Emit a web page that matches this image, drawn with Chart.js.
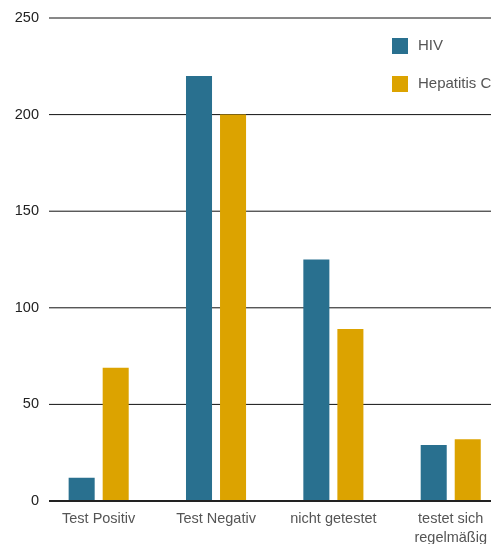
<!DOCTYPE html>
<html>
<head>
<meta charset="utf-8">
<script src="https://cdn.jsdelivr.net/npm/chart.js@4"></script>
<style>
  html, body { margin: 0; padding: 0; background: #fff; overflow: hidden; }
  #wrap { width: 491px; height: 544px; overflow: hidden; position: relative; }
  canvas { display: block; }
</style>
</head>
<body>
<div id="wrap"><canvas id="c" width="520" height="560"></canvas></div>
<script>
// Kategorien und Werte
const categories = ['Test Positiv', 'Test Negativ', 'nicht getestet', ['testet sich', 'regelmäßig']];
const seriesNames = ['HIV', 'Hepatitis C'];
const hivValues = [12, 220, 125, 29];
const hepCValues = [69, 200, 89, 32];
const yTicks = [0, 50, 100, 150, 200, 250];

const colors = ['#29708f', '#dca300'];
const FONT = '"Liberation Sans", Arial, Helvetica, sans-serif';

// Horizontal grid lines, drawn slightly inset from the plot's left edge
const gridPlugin = {
  id: 'insetGrid',
  beforeDatasetsDraw(chart) {
    const { ctx, chartArea, scales } = chart;
    const y = scales.y;
    const x0 = chartArea.left + 9;
    const x1 = chart.width;
    ctx.save();
    yTicks.forEach(v => {
      const py = y.getPixelForValue(v);
      ctx.beginPath();
      if (v === 0) {
        ctx.lineWidth = 2;
        ctx.strokeStyle = '#222';
      } else {
        ctx.lineWidth = 1;
        ctx.strokeStyle = '#111';
      }
      ctx.moveTo(x0, py);
      ctx.lineTo(x1, py);
      ctx.stroke();
    });
    ctx.restore();
  },
  afterDatasetsDraw(chart) {
    // redraw the baseline over the bar feet
    const { ctx, chartArea, scales } = chart;
    const py = scales.y.getPixelForValue(0);
    ctx.save();
    ctx.lineWidth = 2;
    ctx.strokeStyle = '#222';
    ctx.beginPath();
    ctx.moveTo(chartArea.left + 9, py);
    ctx.lineTo(chart.width, py);
    ctx.stroke();
    ctx.restore();
  }
};

// Legend placed inside the plot, upper right
const legendPlugin = {
  id: 'innerLegend',
  afterDraw(chart) {
    const { ctx, chartArea } = chart;
    const bx = chartArea.left + 352;
    let by = chartArea.top + 20;
    ctx.save();
    ctx.font = '15px ' + FONT;
    ctx.textBaseline = 'middle';
    ctx.textAlign = 'left';
    chart.data.datasets.forEach(ds => {
      ctx.fillStyle = ds.backgroundColor;
      ctx.fillRect(bx, by, 16, 16);
      ctx.fillStyle = '#555';
      ctx.fillText(ds.label, bx + 26, by + 8);
      by += 38;
    });
    ctx.restore();
  }
};

new Chart(document.getElementById('c'), {
  type: 'bar',
  data: {
    labels: categories,
    datasets: [
      { label: seriesNames[0], data: hivValues, backgroundColor: colors[0] },
      { label: seriesNames[1], data: hepCValues, backgroundColor: colors[1] }
    ]
  },
  options: {
    responsive: false,
    animation: false,
    devicePixelRatio: 1,
    layout: { padding: { top: 18, right: 10.6, bottom: 0, left: 0 } },
    datasets: {
      bar: { categoryPercentage: 0.58, barPercentage: 0.765 }
    },
    plugins: {
      legend: { display: false },
      title: { display: false },
      tooltip: { enabled: false }
    },
    scales: {
      x: {
        grid: { display: false, drawTicks: false },
        border: { display: false },
        ticks: {
          color: '#555',
          padding: 9,
          maxRotation: 0,
          autoSkip: false,
          font: { family: FONT, size: 14.5, lineHeight: 1.3 }
        },
        afterFit(scale) { scale.height = 59; }
      },
      y: {
        min: 0,
        max: 250,
        grid: { display: false, drawTicks: false },
        border: { display: false },
        ticks: {
          stepSize: 50,
          color: '#222',
          padding: 1,
          font: { family: FONT, size: 14.5 }
        },
        afterFit(scale) { scale.width = 40; }
      }
    }
  },
  plugins: [gridPlugin, legendPlugin]
});
</script>
</body>
</html>
